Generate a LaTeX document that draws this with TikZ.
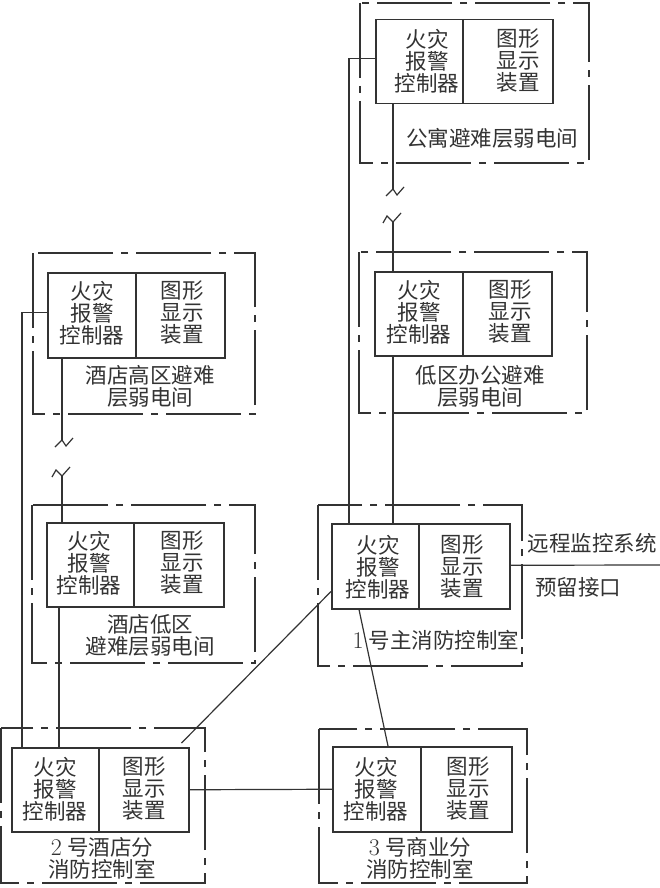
\documentclass[tikz,border=0pt]{standalone}
\usepackage{fontspec}
\newfontfamily\cjk{Noto Sans CJK SC}
\newcommand{\dg}[1]{{\rmfamily\fontsize{24}{22}\selectfont #1}\hspace{5pt}}
\begin{document}
\begin{tikzpicture}[x=1pt,y=-1pt,
  unit/.style={draw=black!80,line width=1.5pt,anchor=north west,inner sep=0pt,minimum height=#1},
  unit/.default=84pt,
  txt/.style={inner sep=0pt,align=center,text=black!80,font=\cjk\fontsize{21.5}{22}\selectfont},
  roombox/.style={draw=black!80,line width=1.3pt,dash pattern=on 75pt off 8pt on 7pt off 8pt},
  wire/.style={draw=black!80,line width=1.2pt}]
\useasboundingbox (0,0) rectangle (660,888);
\fill[white] (0,0) rectangle (660,888);

% room boxes
\draw[roombox] (360,3) rectangle (589,163);
\draw[roombox] (359,252) rectangle (587,413);
\draw[roombox] (33,253) rectangle (255,414);
\draw[roombox] (32,505) rectangle (255,663);
\draw[roombox] (1,728) rectangle (205,883);
\draw[roombox] (319,729) rectangle (527,883);
\draw[roombox] (318,505) rectangle (522,666);

% units
\node[unit, minimum width=87pt] (ac) at (375,19) {};
\node[unit, minimum width=90pt] (ad) at (462,19) {};
\node[unit, minimum width=88pt] (bc) at (374,271) {};
\node[unit, minimum width=89pt] (bd) at (462,271) {};
\node[unit=85pt, minimum width=88pt] (cc) at (47,272) {};
\node[unit=85pt, minimum width=89pt] (cd) at (135,272) {};
\node[unit, minimum width=87pt] (dc) at (46,522) {};
\node[unit, minimum width=90pt] (dd) at (133,522) {};
\node[unit, minimum width=87pt] (ec) at (11,747) {};
\node[unit, minimum width=90pt] (ed) at (98,747) {};
\node[unit=85pt, minimum width=88pt] (fc) at (332,746) {};
\node[unit=85pt, minimum width=91pt] (fd) at (420,746) {};
\node[unit=85pt, minimum width=87pt] (gc) at (331,523) {};
\node[unit=85pt, minimum width=91pt] (gd) at (418,523) {};

% texts
\node[txt] (act) at (427,61) {火灾\\报警\\控制器};
\node[txt] (adt) at (518,61) {图形\\显示\\装置};
\node[txt] (al) at (492,138) {公寓避难层弱电间};
\node[txt] (bct) at (419,312) {火灾\\报警\\控制器};
\node[txt] (bdt) at (510,312) {图形\\显示\\装置};
\node[txt] (bl) at (480,386) {低区办公避难\\层弱电间};
\node[txt] (cct) at (92,313) {火灾\\报警\\控制器};
\node[txt] (cdt) at (182,313) {图形\\显示\\装置};
\node[txt] (cl) at (150,386) {酒店高区避难\\层弱电间};
\node[txt] (dct) at (89,563) {火灾\\报警\\控制器};
\node[txt] (ddt) at (182,563) {图形\\显示\\装置};
\node[txt] (dl) at (150,635) {酒店低区\\避难层弱电间};
\node[txt] (ect) at (55,789) {火灾\\报警\\控制器};
\node[txt] (edt) at (144,789) {图形\\显示\\装置};
\node[txt] (el) at (102,858) {\dg{2}号酒店分\\消防控制室};
\node[txt] (fct) at (376,789) {火灾\\报警\\控制器};
\node[txt] (fdt) at (468,789) {图形\\显示\\装置};
\node[txt] (fl) at (420,858) {\dg{3}号商业分\\消防控制室};
\node[txt] (gct) at (378,567) {火灾\\报警\\控制器};
\node[txt] (gdt) at (462,567) {图形\\显示\\装置};
\node[txt] (gl) at (436,640) {\dg{1}号主消防控制室};
\node[txt] (rt) at (592,543) {远程监控系统};
\node[txt] (rb) at (578,587) {预留接口};

% break points
\coordinate (brA) at (393,189);
\coordinate (brA2) at (393,222);
\coordinate (brC) at (62,440);
\coordinate (brC2) at (62,476);
\coordinate (remote) at (660,565);

% wires
\draw[wire] ([yshift=3pt]ac.west) -| ([xshift=18pt]gc.north west);
\draw[wire] ([xshift=18pt]ac.south west) -- (brA);
\draw[wire] (brA) ++(-7,7) -- (brA) -- ++(4,6) -- ++(7,-8);
\draw[wire] (brA2) ++(-10,1) -- ++(4,-7) -- (brA2) -- ++(8,-9);
\draw[wire] (brA2) -- ([xshift=19pt]bc.north west);
\draw[wire] ([xshift=19pt]bc.south west) -- ([xshift=62pt]gc.north west);

\draw[wire] ([yshift=2.5pt]cc.west) -| ([xshift=11pt]ec.north west);
\draw[wire] ([xshift=15pt]cc.south west) -- (brC);
\draw[wire] (brC) ++(-7,7) -- (brC) -- ++(4,6) -- ++(7,-8);
\draw[wire] (brC2) ++(-10,1) -- ++(4,-7) -- (brC2) -- ++(8,-9);
\draw[wire] (brC2) -- ([xshift=16pt]dc.north west);
\draw[wire] ([xshift=13pt]dc.south west) -- ([xshift=48pt]ec.north west);

\draw[wire] (ed.east) -- (fc.west);
\draw[wire] ([shift={(-8pt,4pt)}]ed.north east) -- ([yshift=18pt]gc.south west);
\draw[wire] ([xshift=28pt]gc.south west) -- ([xshift=56pt]fc.north west);
\draw[wire] ([yshift=1pt]gd.east) -- (remote);
\end{tikzpicture}
\end{document}
